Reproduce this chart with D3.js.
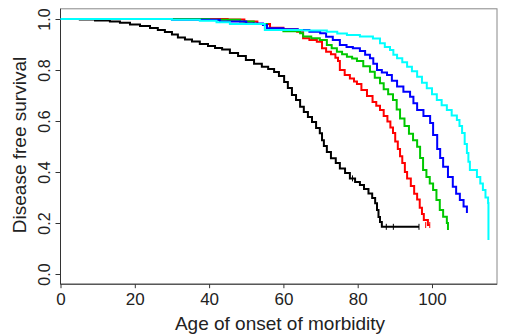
<!DOCTYPE html>
<html><head><meta charset="utf-8">
<script src="https://cdn.jsdelivr.net/npm/d3@7"></script>
<style>body{margin:0;background:#fff}svg{display:block}text{font-family:"Liberation Sans",Arial,sans-serif}</style>
</head><body>
<div id="chart"></div>
<script>
// Kaplan-Meier step curves: [age, survival] pairs
const black = [[0,1.000],[5.2,0.998],[9.3,0.994],[13.3,0.990],[16.0,0.985],[18.7,0.978],[21.4,0.973],[24.1,0.965],[26.2,0.957],[28.1,0.949],[30.0,0.939],[31.6,0.927],[33.5,0.920],[35.4,0.912],[37.5,0.902],[39.7,0.894],[41.6,0.886],[43.5,0.880],[45.6,0.867],[47.8,0.855],[49.9,0.839],[52.1,0.825],[54.2,0.813],[55.9,0.804],[57.5,0.792],[58.8,0.776],[60.2,0.753],[61.2,0.729],[62.3,0.702],[63.4,0.682],[64.5,0.656],[65.5,0.635],[66.6,0.616],[67.7,0.596],[68.8,0.573],[69.8,0.552],[70.4,0.525],[70.9,0.502],[71.7,0.478],[72.8,0.454],[74.1,0.435],[75.2,0.414],[76.6,0.396],[77.9,0.375],[79.3,0.361],[80.6,0.349],[81.7,0.333],[82.9,0.316],[83.9,0.298],[84.7,0.277],[85.2,0.251],[85.6,0.224],[86.0,0.204],[86.5,0.185],[96.5,0.185]];
const red = [[0,1.0],[45,0.998],[49.5,0.99],[53,0.98],[56.4,0.966],[60,0.96],[63.7,0.950],[65.3,0.925],[67,0.918],[69.0,0.911],[70.4,0.885],[71.5,0.872],[72.8,0.862],[74,0.848],[74.7,0.835],[75.2,0.80],[76.5,0.78],[77.9,0.767],[79,0.755],[79.8,0.745],[81,0.722],[82.5,0.698],[84,0.675],[85,0.66],[86,0.643],[87,0.62],[88,0.598],[88.8,0.575],[89.5,0.553],[90.1,0.52],[90.8,0.49],[91.4,0.462],[92,0.435],[92.7,0.40],[93.3,0.375],[94.3,0.345],[95.2,0.315],[96.0,0.292],[96.7,0.26],[97.3,0.235],[97.8,0.212],[98.9,0.192],[99.4,0.192]];
const green = [[0,1],[40,0.997],[48.3,0.99],[52,0.98],[55.6,0.96],[60,0.952],[64.5,0.944],[65.3,0.931],[67.5,0.925],[69.8,0.918],[71.7,0.898],[73,0.885],[74.4,0.872],[75.8,0.862],[77.1,0.852],[78.5,0.845],[79.8,0.835],[81.5,0.815],[83.3,0.793],[84.6,0.77],[86.0,0.748],[87,0.725],[88.2,0.705],[89.5,0.682],[90.5,0.645],[91.4,0.61],[92.6,0.58],[93.8,0.55],[94.9,0.525],[96.0,0.499],[96.8,0.455],[97.6,0.408],[98.5,0.38],[99.4,0.355],[100.3,0.329],[101.2,0.29],[102.1,0.251],[103,0.225],[104.0,0.2],[104.3,0.173]];
const blue = [[0,1],[30,0.997],[42.9,0.99],[50,0.982],[54.5,0.976],[55.6,0.964],[60,0.96],[63.9,0.957],[67,0.95],[69.9,0.944],[71.5,0.93],[73.3,0.918],[75.2,0.898],[77,0.89],[78.7,0.885],[80.6,0.875],[82,0.86],[83.3,0.846],[84.2,0.825],[85.2,0.8],[86.5,0.79],[87.9,0.780],[89.2,0.758],[90.6,0.735],[92.3,0.715],[94.1,0.695],[95,0.67],[96.0,0.643],[97.7,0.62],[99.5,0.592],[100.3,0.545],[101.4,0.49],[102.2,0.455],[103.0,0.421],[104.3,0.38],[105.6,0.342],[106.5,0.315],[107.5,0.290],[108.5,0.265],[109.4,0.239]];
const cyan = [[0,1],[30,0.997],[37.5,0.993],[42,0.987],[45.6,0.98],[55.0,0.957],[65,0.955],[71.7,0.950],[74.5,0.943],[77.1,0.937],[80.6,0.931],[84.1,0.924],[86.0,0.905],[87.3,0.89],[88.7,0.878],[89.6,0.86],[90.6,0.846],[92,0.83],[93.3,0.813],[94.6,0.795],[96.0,0.774],[97.3,0.75],[98.6,0.728],[100,0.705],[101.3,0.682],[102.6,0.662],[104.0,0.643],[105.3,0.622],[106.7,0.604],[107.4,0.58],[108.1,0.553],[108.8,0.51],[109.4,0.475],[109.8,0.44],[110.2,0.408],[112.1,0.38],[113,0.355],[113.7,0.329],[114.4,0.3],[115.1,0.278],[115.2,0.133]];
const censorBlack = [[78.6,0.375],[87.7,0.185],[89.6,0.185],[96.5,0.185]];
const censorRed = [[98.3,0.192],[99.4,0.192]];
const seriesColors = ["#000000","#ff0000","#00c800","#0000ff","#00ffff"];
const xTicks = [0,20,40,60,80,100];
const yTicks = [0.0,0.2,0.4,0.6,0.8,1.0];
const xTitle = "Age of onset of morbidity";
const yTitle = "Disease free survival";

const W = 506, H = 335;
const svg = d3.select("#chart").append("svg").attr("width", W).attr("height", H);
const x = d3.scaleLinear().domain([0, 117.5]).range([60.5, 497]);
const y = d3.scaleLinear().domain([0, 1]).range([274, 19]);

// box
svg.append("rect").attr("x", x(0)).attr("y", y(1.04)).attr("width", x(117.5) - x(0)).attr("height", y(-0.04) - y(1.04))
  .attr("fill", "none").attr("stroke", "#888").attr("stroke-width", 1);
svg.append("line").attr("x1", x(0)).attr("x2", x(0)).attr("y1", y(1.04)).attr("y2", y(-0.04)).attr("stroke", "#333");
svg.append("line").attr("x1", x(0)).attr("x2", x(117.5)).attr("y1", y(-0.04)).attr("y2", y(-0.04)).attr("stroke", "#333");

// x axis
const xa = svg.append("g").attr("transform", `translate(0,${y(-0.04)})`)
  .call(d3.axisBottom(x).tickValues(xTicks).tickSize(4).tickPadding(5).tickFormat(d3.format("d")));
xa.select(".domain").remove();
xa.selectAll("line").attr("stroke", "#333");
xa.selectAll("text").attr("font-size", 17).attr("fill", "#222");

// y axis
const ya = svg.append("g").attr("transform", `translate(${x(0)},0)`)
  .call(d3.axisLeft(y).tickValues(yTicks).tickSize(5).tickFormat(d3.format(".1f")));
ya.select(".domain").remove();
ya.selectAll("line").attr("stroke", "#333");
ya.selectAll("text").attr("font-size", 16).attr("fill", "#222")
  .attr("text-anchor", "middle").attr("dy", 0).attr("x", 0)
  .attr("transform", `translate(-11,0) rotate(-90)`);

svg.append("text").attr("x", 280).attr("y", 330).attr("text-anchor", "middle")
  .attr("font-size", 19).attr("fill", "#222").text(xTitle);
svg.append("text").attr("transform", `translate(26,145) rotate(-90)`).attr("text-anchor", "middle")
  .attr("font-size", 19).attr("fill", "#222").text(yTitle);

const line = d3.line().x(d => x(d[0])).y(d => y(d[1])).curve(d3.curveStepAfter);
const data = [black, red, green, blue, cyan];
data.forEach((s, i) => {
  svg.append("path").datum(s).attr("d", line).attr("fill", "none")
    .attr("stroke", seriesColors[i]).attr("stroke-width", 2);
});
function censors(arr, col) {
  svg.selectAll(null).data(arr).enter().append("line")
    .attr("x1", d => x(d[0])).attr("x2", d => x(d[0]))
    .attr("y1", d => y(d[1]) - 3).attr("y2", d => y(d[1]) + 3)
    .attr("stroke", col).attr("stroke-width", 1);
}
censors(censorBlack, "#000");
censors(censorRed, "#ff0000");
</script>
</body></html>
